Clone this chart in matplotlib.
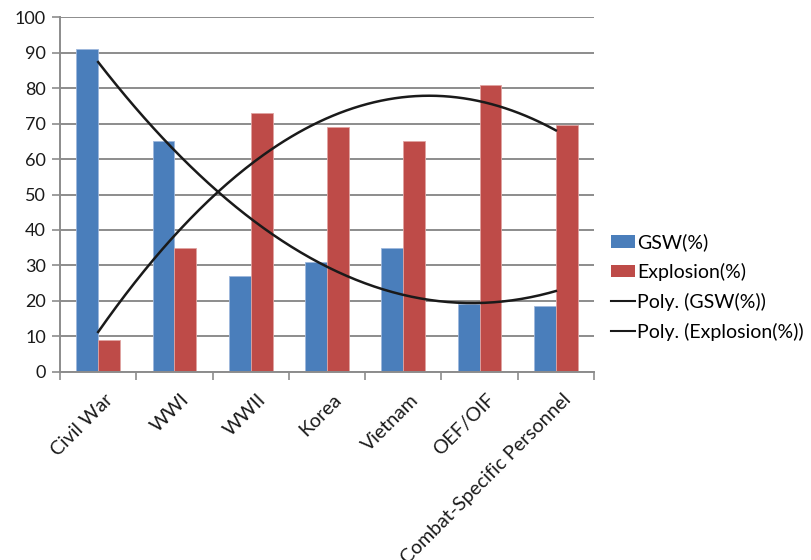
import numpy as np
import matplotlib
matplotlib.use("Agg")
import matplotlib.pyplot as plt
from matplotlib.patches import Patch
from matplotlib.lines import Line2D
from matplotlib.transforms import ScaledTranslation

categories = ["Civil War", "WWI", "WWII", "Korea", "Vietnam", "OEF/OIF",
              "Combat-Specific Personnel"]
gsw = [91, 65, 27, 31, 35, 19, 18.5]
explosion = [9, 35, 73, 69, 65, 81, 69.5]
y_ticks = [0, 10, 20, 30, 40, 50, 60, 70, 80, 90, 100]

blue = "#4A7EBB"
red = "#BE4B48"
grid_c = "#8C8C8C"
font = ["Lato", "DejaVu Sans"]
fs = 14

fig = plt.figure(figsize=(8.11, 5.60), dpi=100)
ax = fig.add_axes([60 / 811, 1 - 371.7 / 560, (594 - 60) / 811, (371.7 - 17.3) / 560])

x = np.arange(1, len(categories) + 1)
w = 1 / 3.5
ax.bar(x - w / 2, gsw, width=w, color=blue, edgecolor="#9DB7DC", linewidth=0.6, zorder=2)
ax.bar(x + w / 2, explosion, width=w, color=red, edgecolor="#E0A3A1", linewidth=0.6, zorder=2)

# second-order polynomial trendlines
xs = np.linspace(1, len(categories), 200)
for series in (gsw, explosion):
    coef = np.polyfit(x, series, 2)
    ax.plot(xs, np.polyval(coef, xs), color="#1a1a1a", linewidth=1.8, zorder=3)

ax.set_xlim(0.5, len(categories) + 0.5)
ax.set_ylim(0, 100)
ax.set_yticks(y_ticks)
ax.set_yticklabels([str(v) for v in y_ticks], fontsize=13, family=font, color="#1a1a1a")
ax.yaxis.grid(True, color=grid_c, linewidth=1.4, zorder=0)
ax.set_axisbelow(True)

ax.set_xticks(np.arange(0.5, len(categories) + 1, 1.0))
ax.set_xticklabels([])
ax.set_xticks(x, minor=True)
ax.set_xticklabels(categories, minor=True, rotation=45, ha="right", va="top",
                   rotation_mode="anchor", fontsize=fs, family=font, color="#1a1a1a")
ax.tick_params(axis="x", which="minor", length=0, pad=14)
ax.tick_params(axis="x", which="major", length=6, width=1.2, color=grid_c, direction="out")
ax.tick_params(axis="y", length=6, width=1.2, color=grid_c, direction="out", pad=4)
shift = ScaledTranslation(6 / 100, 0, fig.dpi_scale_trans)
for lab in ax.get_xticklabels(minor=True):
    lab.set_transform(lab.get_transform() + shift)

for side in ("top", "right"):
    ax.spines[side].set_visible(False)
for side in ("left", "bottom"):
    ax.spines[side].set_color(grid_c)
    ax.spines[side].set_linewidth(1.4)

handles = [
    Patch(facecolor=blue, edgecolor="none"),
    Patch(facecolor=red, edgecolor="none"),
    Line2D([], [], color="#1a1a1a", linewidth=1.5),
    Line2D([], [], color="#1a1a1a", linewidth=1.5),
]
labels = ["GSW(%)", "Explosion(%)", "Poly. (GSW(%))", "Poly. (Explosion(%))"]
fig.legend(handles, labels, loc="center left", bbox_to_anchor=(611 / 811, 1 - 287 / 560),
           frameon=False, prop={"family": font, "size": fs}, handlelength=1.25,
           handleheight=0.6, handletextpad=0.1, labelspacing=0.6, borderaxespad=0,
           borderpad=0)

fig.savefig("out.png", dpi=100)
